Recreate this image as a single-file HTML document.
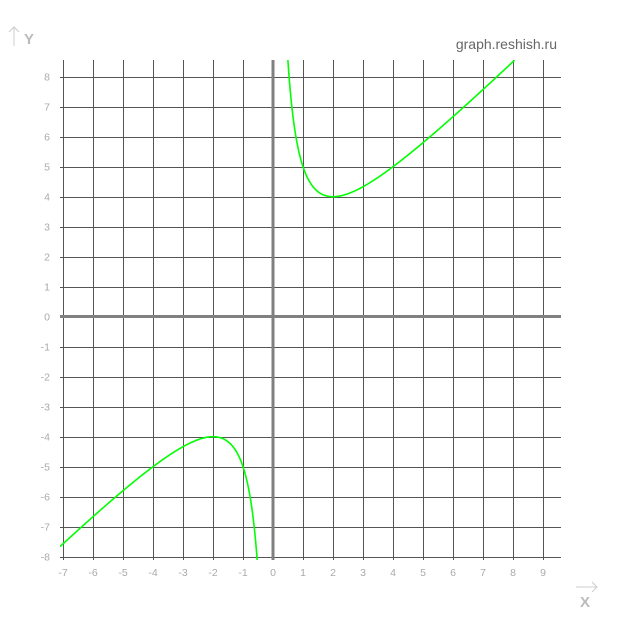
<!DOCTYPE html>
<html><head><style>html,body{margin:0;background:#fff;width:620px;height:620px;overflow:hidden}svg{display:block}text{font-family:"Liberation Sans",sans-serif}</style></head>
<body>
<svg id="s" width="620" height="620" xmlns="http://www.w3.org/2000/svg">
<g id="grid" stroke="#555" stroke-width="1"></g>
<line x1="60" y1="316.5" x2="561" y2="316.5" stroke="#808080" stroke-width="3"/>
<line x1="273" y1="60" x2="273" y2="560" stroke="#808080" stroke-width="3"/>
<g id="labels" fill="#aaa" font-size="10.5"></g>
<clipPath id="c"><rect x="60" y="60" width="501" height="500"/></clipPath>
<path id="p" clip-path="url(#c)" fill="none" stroke="#00ff00" stroke-width="1.6"/>
<text x="557" y="49" font-size="14" fill="#666" text-anchor="end">graph.reshish.ru</text>
<text x="24" y="44" font-size="15" font-weight="bold" fill="#bbb">Y</text>
<line x1="14" y1="27" x2="14" y2="46" stroke="#ccc"/><path d="M9,32 L14,27 L19,32" fill="none" stroke="#ccc"/>
<text x="580" y="607" font-size="15" font-weight="bold" fill="#bbb">X</text>
<line x1="576" y1="587" x2="597" y2="587" stroke="#ccc"/><path d="M592,582 L597,587 L592,592" fill="none" stroke="#ccc"/>
</svg>
<script>
var NS="http://www.w3.org/2000/svg",g=document.getElementById('grid'),L=document.getElementById('labels');
function X(v){return 273+30*v}function Y(v){return 316.7-30*v}
function el(p,t,a){var e=document.createElementNS(NS,t);for(var k in a)e.setAttribute(k,a[k]);p.appendChild(e);return e}
for(var i=-7;i<=9;i++){var x=Math.round(X(i))+0.5;el(g,'line',{x1:x,y1:60,x2:x,y2:560});var t=el(L,'text',{x:X(i),y:576,'text-anchor':'middle'});t.textContent=i;}
for(var j=-8;j<=8;j++){var y=Math.round(Y(j))+0.5;el(g,'line',{x1:60,y1:y,x2:561,y2:y});var t=el(L,'text',{x:50,y:Y(j)+4,'text-anchor':'end'});t.textContent=j;}
var d='';
for(var s=0;s<2;s++){var a=s?0.3:-7.1,b=s?8.05:-0.3,first=true;for(var x=a;x<=b;x+=0.01){var y=x+4/x;d+=(first?'M':'L')+X(x).toFixed(2)+','+Y(y).toFixed(2);first=false;}}
document.getElementById('p').setAttribute('d',d);
</script>
</body></html>
